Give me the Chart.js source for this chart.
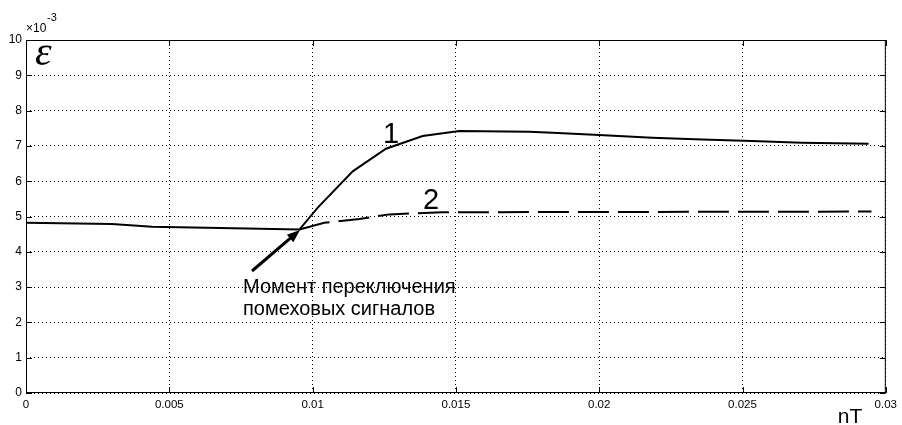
<!DOCTYPE html>
<html>
<head>
<meta charset="utf-8">
<script src="https://cdn.jsdelivr.net/npm/chart.js@4.4.1/dist/chart.umd.min.js"></script>
<style>
  html, body { margin: 0; padding: 0; background: #fff; }
  #wrap { width: 902px; height: 425px; position: relative; }
</style>
</head>
<body>
<div id="wrap"><canvas id="myChart" width="902" height="425"></canvas></div>
<script>
// curve 1 (x in nT, y in units of 1e-3)
const x1 = [0, 0.0030, 0.0044, 0.0077, 0.00954, 0.01018, 0.0114, 0.01256, 0.01384, 0.01512, 0.01756, 0.01837, 0.0200, 0.02185, 0.02359, 0.02533, 0.02707, 0.0294];
const y1 = [4.82, 4.79, 4.71, 4.66, 4.63, 5.25, 6.28, 6.92, 7.28, 7.42, 7.40, 7.37, 7.31, 7.23, 7.18, 7.14, 7.09, 7.06];

// curve 2 (dashed)
const x2 = [0.00954, 0.01041, 0.01163, 0.01268, 0.01453, 0.0295];
const y2 = [4.63, 4.82, 4.93, 5.06, 5.12, 5.14];

const xTicks = [0, 0.005, 0.01, 0.015, 0.02, 0.025, 0.03];
const yTicks = [0, 1, 2, 3, 4, 5, 6, 7, 8, 9, 10];

const toPoints = (xs, ys) => xs.map((x, i) => ({ x: x, y: ys[i] }));

const FONT = "'Liberation Sans', Arial, sans-serif";

// frame, inward ticks and the texts
const extras = {
  id: 'extras',
  afterDatasetsDraw(chart) {
    const ctx = chart.ctx;
    const a = chart.chartArea;
    const sx = chart.scales.x, sy = chart.scales.y;
    ctx.save();
    ctx.strokeStyle = '#000';
    ctx.lineWidth = 1;
    ctx.setLineDash([]);
    ctx.strokeRect(a.left + 0.5, a.top + 0.5, a.right - a.left - 1, a.bottom - a.top - 1);
    ctx.beginPath();
    xTicks.forEach(v => {
      const px = Math.round(sx.getPixelForValue(v)) + 0.5;
      ctx.moveTo(px, a.top); ctx.lineTo(px, a.top + 6);
      ctx.moveTo(px, a.bottom); ctx.lineTo(px, a.bottom - 6);
    });
    yTicks.forEach(v => {
      const py = Math.round(sy.getPixelForValue(v)) + 0.5;
      ctx.moveTo(a.left, py); ctx.lineTo(a.left + 6, py);
      ctx.moveTo(a.right, py); ctx.lineTo(a.right - 6, py);
    });
    ctx.stroke();

    ctx.fillStyle = '#000';
    ctx.textBaseline = 'alphabetic';
    ctx.textAlign = 'left';

    // exponent
    ctx.font = '12px ' + FONT;
    ctx.fillText('\u00d710', 26, 32);
    ctx.font = '11px ' + FONT;
    ctx.fillText('-3', 47, 21);

    // epsilon
    ctx.font = 'italic 42px "Liberation Serif", serif';
    ctx.fillText('\u03b5', 35, 65);

    // curve numbers
    ctx.font = '29px ' + FONT;
    ctx.textAlign = 'center';
    ctx.fillText('1', 391, 143);
    ctx.fillText('2', 431, 209);

    // axis name
    ctx.font = '21px ' + FONT;
    ctx.fillText('nT', 850, 423);

    // annotation
    ctx.textAlign = 'left';
    ctx.font = '20px ' + FONT;
    ctx.fillText('Момент переключения', 243, 293);
    ctx.fillText('помеховых сигналов', 243, 315);

    // arrow
    const tx = 300, ty = 230, fx = 252, fy = 271;
    const ang = Math.atan2(ty - fy, tx - fx);
    ctx.lineWidth = 3;
    ctx.beginPath();
    ctx.moveTo(fx, fy);
    ctx.lineTo(tx - 8 * Math.cos(ang), ty - 8 * Math.sin(ang));
    ctx.stroke();
    ctx.beginPath();
    ctx.moveTo(tx, ty);
    ctx.lineTo(tx - 13 * Math.cos(ang) + 5 * Math.sin(ang), ty - 13 * Math.sin(ang) - 5 * Math.cos(ang));
    ctx.lineTo(tx - 13 * Math.cos(ang) - 5 * Math.sin(ang), ty - 13 * Math.sin(ang) + 5 * Math.cos(ang));
    ctx.closePath();
    ctx.fill();
    ctx.restore();
  }
};

new Chart(document.getElementById('myChart'), {
  type: 'scatter',
  data: {
    datasets: [
      {
        label: '1',
        data: toPoints(x1, y1),
        showLine: true,
        borderColor: '#000',
        borderWidth: 2,
        pointRadius: 0,
        tension: 0
      },
      {
        label: '2',
        data: toPoints(x2, y2),
        showLine: true,
        borderColor: '#000',
        borderWidth: 2,
        borderDash: [31, 9],
        pointRadius: 0,
        tension: 0
      }
    ]
  },
  options: {
    responsive: false,
    animation: false,
    devicePixelRatio: 1,
    layout: { padding: { top: 40, right: 15, left: 0, bottom: 0 } },
    plugins: { legend: { display: false }, tooltip: { enabled: false } },
    scales: {
      x: {
        type: 'linear',
        min: 0, max: 0.03,
        afterFit: s => { s.height = 32; },
        afterBuildTicks: s => { s.ticks = xTicks.map(v => ({ value: v })); },
        grid: { color: '#000', lineWidth: 1, drawTicks: false },
        border: { display: false, dash: [1, 3] },
        ticks: {
          color: '#000', padding: 5,
          font: { family: FONT, size: 11.5 },
          maxRotation: 0,
          callback: v => String(v)
        }
      },
      y: {
        min: 0, max: 10,
        afterFit: s => { s.width = 26; },
        afterBuildTicks: s => { s.ticks = yTicks.map(v => ({ value: v })); },
        grid: { color: '#000', lineWidth: 1, drawTicks: false },
        border: { display: false, dash: [1, 3] },
        ticks: {
          color: '#000', padding: 4,
          font: { family: FONT, size: 12 },
          callback: v => String(v)
        }
      }
    }
  },
  plugins: [extras]
});
</script>
</body>
</html>
